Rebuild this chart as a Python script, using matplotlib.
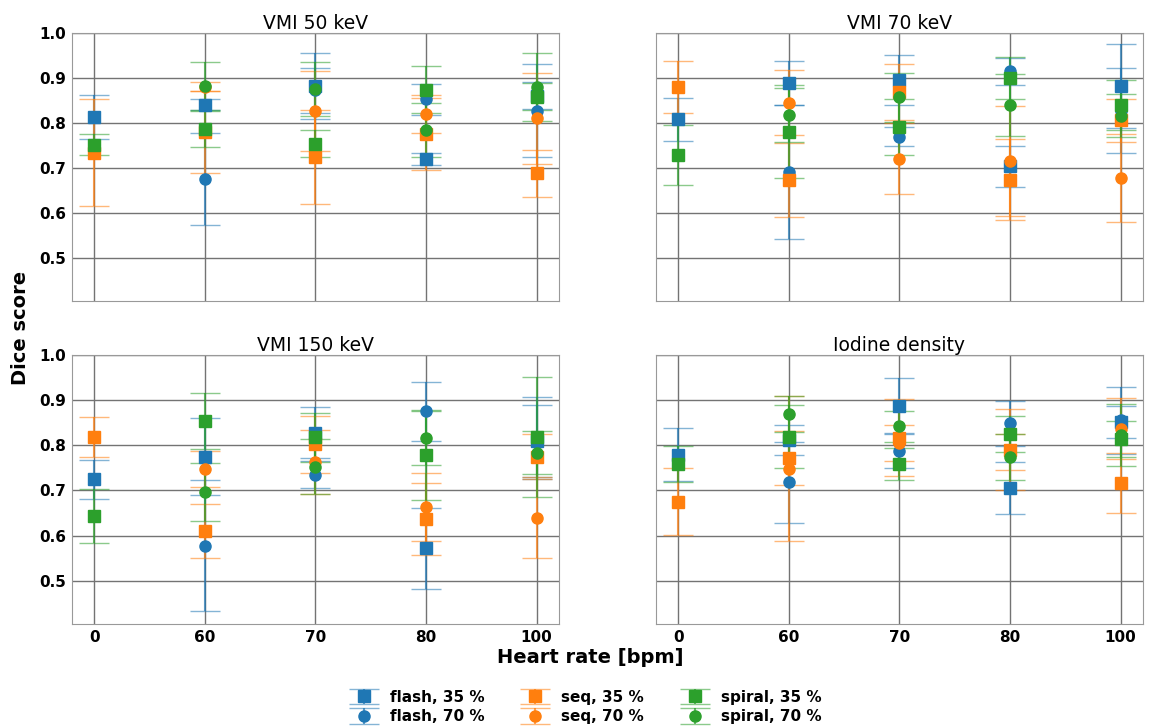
import numpy as np
import matplotlib
matplotlib.use("Agg")
import matplotlib.pyplot as plt

nan = np.nan

heart_rates = ["0", "60", "70", "80", "100"]
series_names = ["flash, 35 %", "flash, 70 %", "seq, 35 %", "seq, 70 %", "spiral, 35 %", "spiral, 70 %"]
panel_titles = ["VMI 50 keV", "VMI 70 keV", "VMI 150 keV", "Iodine density"]

# rows: flash35, flash70, seq35, seq70, spiral35, spiral70 ; cols: heart rates
vmi50_mean = [[0.813, 0.840, 0.882, 0.720, 0.860],
              [nan, 0.676, 0.872, 0.852, 0.827],
              [0.734, 0.780, 0.724, 0.776, 0.689],
              [nan, 0.880, 0.826, 0.820, 0.810],
              [0.752, 0.787, 0.754, 0.874, 0.858],
              [nan, 0.882, 0.876, 0.784, 0.880]]
vmi50_err = [[0.048, 0.012, 0.074, 0.013, 0.030],
             [nan, 0.101, 0.050, 0.035, 0.103],
             [0.118, 0.090, 0.104, 0.080, 0.052],
             [nan, 0.010, 0.089, 0.042, 0.100],
             [0.024, 0.040, 0.030, 0.052, 0.030],
             [nan, 0.054, 0.060, 0.060, 0.076]]

vmi70_mean = [[0.808, 0.888, 0.895, 0.704, 0.882],
              [nan, 0.692, 0.770, 0.915, 0.827],
              [0.879, 0.674, 0.868, 0.674, 0.806],
              [nan, 0.845, 0.721, 0.716, 0.678],
              [0.729, 0.781, 0.791, 0.899, 0.840],
              [nan, 0.817, 0.857, 0.840, 0.816]]
vmi70_err = [[0.048, 0.049, 0.055, 0.045, 0.093],
             [nan, 0.148, 0.022, 0.030, 0.094],
             [0.058, 0.082, 0.062, 0.090, 0.048],
             [nan, 0.072, 0.078, 0.122, 0.097],
             [0.066, 0.104, 0.063, 0.047, 0.056],
             [nan, 0.060, 0.054, 0.068, 0.048]]

vmi150_mean = [[0.725, 0.775, 0.828, 0.572, 0.810],
               [nan, 0.578, 0.735, 0.875, 0.816],
               [0.819, 0.610, 0.802, 0.637, 0.775],
               [nan, 0.748, 0.763, 0.663, 0.640],
               [0.643, 0.853, 0.818, 0.778, 0.819],
               [nan, 0.696, 0.753, 0.817, 0.784]]
vmi150_err = [[0.043, 0.085, 0.057, 0.090, 0.080],
              [nan, 0.145, 0.030, 0.066, 0.090],
              [0.044, 0.060, 0.063, 0.079, 0.050],
              [nan, 0.040, 0.070, 0.075, 0.089],
              [0.060, 0.062, 0.054, 0.100, 0.133],
              [nan, 0.064, 0.060, 0.060, 0.047]]

iodine_mean = [[0.779, 0.812, 0.886, 0.705, 0.852],
               [nan, 0.718, 0.788, 0.849, 0.855],
               [0.675, 0.772, 0.817, 0.790, 0.716],
               [nan, 0.748, 0.806, 0.785, 0.837],
               [0.759, 0.819, 0.758, 0.826, 0.813],
               [nan, 0.869, 0.842, 0.774, 0.823]]
iodine_err = [[0.059, 0.034, 0.062, 0.057, 0.035],
              [nan, 0.090, 0.039, 0.050, 0.074],
              [0.074, 0.060, 0.086, 0.090, 0.067],
              [nan, 0.161, 0.040, 0.040, 0.068],
              [0.040, 0.070, 0.035, 0.040, 0.040],
              [nan, 0.040, 0.035, 0.050, 0.068]]

colors = ["tab:blue", "tab:blue", "tab:orange", "tab:orange", "tab:green", "tab:green"]
markers = ["s", "o", "s", "o", "s", "o"]

plt.rcParams['font.family'] = ['DejaVu Sans']

fig, axes = plt.subplots(2, 2, figsize=(11.52, 7.26), dpi=100, sharex=True, sharey=True)
fig.subplots_adjust(left=0.0625, right=0.992, top=0.955, bottom=0.141, wspace=0.2, hspace=0.2)

panels = [(vmi50_mean, vmi50_err), (vmi70_mean, vmi70_err),
          (vmi150_mean, vmi150_err), (iodine_mean, iodine_err)]
x = np.arange(len(heart_rates))

for ax, title, (means, errs) in zip(axes.flat, panel_titles, panels):
    for i in range(len(series_names)):
        line, caps, bars = ax.errorbar(x, means[i], yerr=errs[i], fmt=markers[i], color=colors[i],
                                       markersize=8, capsize=11, elinewidth=1.5, capthick=1,
                                       label=series_names[i])
        for c in caps:
            c.set_alpha(0.55)
        for b in bars:
            b.set_alpha(0.7)
    ax.set_title(title, fontsize=13.5, pad=2)
    ax.grid(True, color='0.45', linewidth=1)
    ax.set_axisbelow(True)
    ax.tick_params(length=0, pad=4.5)
    for sp in ax.spines.values():
        sp.set_color('0.6')

ax0 = axes[0, 0]
ax0.set_ylim(0.405, 1.0)
ax0.set_yticks([0.5, 0.6, 0.7, 0.8, 0.9, 1.0])
ax0.set_xticks(x)
ax0.set_xticklabels(heart_rates)
for ax in axes.flat:
    for lab in ax.get_xticklabels() + ax.get_yticklabels():
        lab.set_fontweight('bold')
        lab.set_fontsize(11)

fig.text(0.018, 0.548, "Dice score", rotation=90, ha='center', va='center',
         fontsize=14, fontweight='bold')
fig.text(0.512, 0.0937, "Heart rate [bpm]", ha='center', va='center',
         fontsize=14, fontweight='bold')

handles, labels = ax0.get_legend_handles_labels()
fig.legend(handles, labels, loc='center', bbox_to_anchor=(0.508, 0.026), ncol=3,
           frameon=False, prop={'weight': 'bold', 'size': 11}, columnspacing=2.3,
           handletextpad=0.7, labelspacing=0.3)

fig.savefig("out.png", dpi=100)
